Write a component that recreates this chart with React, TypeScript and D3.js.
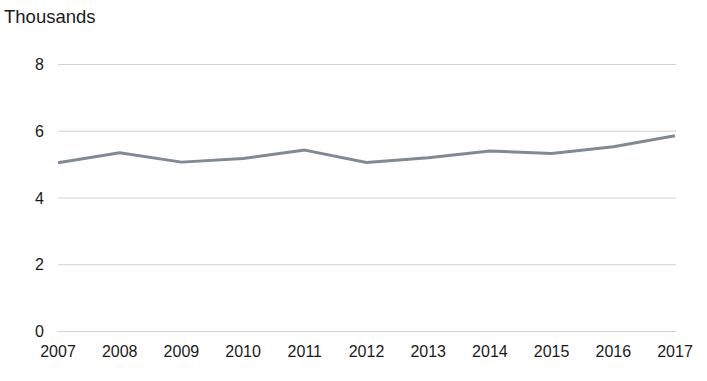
import React, { useEffect, useRef } from 'react';
import * as d3 from 'd3';

const years = ['2007', '2008', '2009', '2010', '2011', '2012', '2013', '2014', '2015', '2016', '2017'];
const values = [5.04, 5.34, 5.06, 5.17, 5.42, 5.05, 5.19, 5.39, 5.32, 5.52, 5.85];
const yTicks = [0, 2, 4, 6, 8];
const unitLabel = 'Thousands';

const App = () => {
  const ref = useRef<SVGSVGElement>(null);

  useEffect(() => {
    const svg = d3.select(ref.current);
    svg.selectAll('*').remove();

    const font = '"Liberation Sans", Arial, sans-serif';

    const x = d3.scalePoint<string>().domain(years).range([58, 675]);
    const y = d3.scaleLinear().domain([0, 8]).range([331, 64]);

    // gridlines
    svg.append('g')
      .selectAll('line')
      .data(yTicks)
      .enter()
      .append('line')
      .attr('x1', 58)
      .attr('x2', 676)
      .attr('y1', (d) => y(d) + 0.5)
      .attr('y2', (d) => y(d) + 0.5)
      .attr('stroke', '#d2d2d2')
      .attr('stroke-width', 1);

    // y labels
    svg.append('g')
      .selectAll('text')
      .data(yTicks)
      .enter()
      .append('text')
      .attr('x', 44)
      .attr('y', (d) => y(d) + 6)
      .attr('text-anchor', 'end')
      .attr('font-family', font)
      .attr('font-size', 16)
      .attr('fill', '#1a1a1a')
      .text((d) => d);

    // x labels
    svg.append('g')
      .selectAll('text')
      .data(years)
      .enter()
      .append('text')
      .attr('x', (d) => x(d)!)
      .attr('y', 357)
      .attr('text-anchor', 'middle')
      .attr('font-family', font)
      .attr('font-size', 16)
      .attr('fill', '#1a1a1a')
      .text((d) => d);

    svg.append('text')
      .attr('x', 4)
      .attr('y', 23)
      .attr('font-family', font)
      .attr('font-size', 18.5)
      .attr('fill', '#1a1a1a')
      .text(unitLabel);

    const line = d3.line<number>()
      .x((d, i) => x(years[i])!)
      .y((d) => y(d));

    svg.append('path')
      .datum(values)
      .attr('d', line)
      .attr('fill', 'none')
      .attr('stroke', '#7f8a96')
      .attr('stroke-width', 3)
      .attr('stroke-linejoin', 'round');
  }, []);

  return (
    <svg ref={ref} width={707} height={381} style={{ position: 'absolute', left: 0, top: 0 }}></svg>
  );
};

export default App;
